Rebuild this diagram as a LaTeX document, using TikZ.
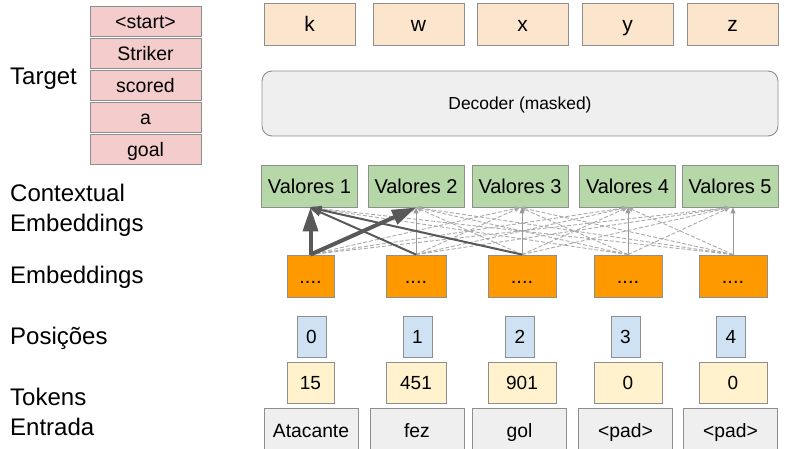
\documentclass[tikz,border=0pt]{standalone}
\usepackage{fontspec}
\setmainfont{Liberation Sans}
\usetikzlibrary{arrows.meta}

\definecolor{tgtpink}{HTML}{F4CCCC}
\definecolor{outpeach}{HTML}{FCE5CD}
\definecolor{boxgray}{HTML}{EFEFEF}
\definecolor{valgreen}{HTML}{B6D7A8}
\definecolor{emborange}{HTML}{FF9900}
\definecolor{posblue}{HTML}{CFE2F3}
\definecolor{idyellow}{HTML}{FFF2CC}
\definecolor{edgegray}{HTML}{8E8E8E}
\definecolor{attdark}{HTML}{595959}
\definecolor{attmid}{HTML}{999999}
\definecolor{attlight}{HTML}{A9A9A9}

\newcommand\fs[1]{\fontsize{#1}{30}\selectfont}

\begin{document}
\begin{tikzpicture}[x=1pt,y=-1pt,
    box/.style={draw=edgegray,line width=0.9pt,inner sep=0pt,minimum height=#1},
    sz/.style={font=\fs{#1},text height=0.72*#1pt,text depth=0pt},
    rowlabel/.style={anchor=west,align=left,inner sep=0pt,font=\fs{24}},
    att/.style={-{Triangle[length=0pt 6,width=1.7pt 3.3]}},
    attweak/.style={att,attlight,line width=0.9pt,dash pattern=on 4pt off 2pt},
    attself/.style={att,attmid,line width=1pt},
    attstrong/.style={att,attdark,line width=#1}]

  \clip (0,0) rectangle (809,449);

  % Row labels
  \node[rowlabel] (lbltarget) at (10,79) {Target};
  \node[rowlabel] (lblcontext) at (10,210) {Contextual\\Embeddings};
  \node[rowlabel] (lblemb) at (10,277) {Embeddings};
  \node[rowlabel] (lblpos) at (10,338) {Posições};
  \node[rowlabel] (lbltok) at (10,412) {Tokens\\Entrada};

  % Target sentence
  \foreach \n/\w in {1/<start>,2/Striker,3/scored,4/a,5/goal}
    \node[box=30,minimum width=111,fill=tgtpink,sz=19.5] (tgt\n) at (145.5,{21+32.2*(\n-1)}) {\w};

  % Decoder outputs and decoder
  \foreach \n/\x/\w in {1/309.5/k,2/418.5/w,3/522.5/x,4/627.5/y,5/732.5/z}
    \node[box=42,minimum width=91,fill=outpeach,sz=21] (out\n) at (\x,24) {\w};
  \node[box=65,minimum width=516,fill=boxgray,rounded corners=10pt,sz=17.4] (dec) at (520,103.5) {Decoder (masked)};

  % Contextual embeddings
  \foreach \n/\x in {1/309.5,2/416,3/520,4/627.5,5/730}
    \node[box=42,minimum width=96,fill=valgreen,sz=20] (val\n) at (\x,186) {Valores \n};

  % Embeddings, positions and token ids
  \foreach \n/\x/\w/\id in {1/310.5/47/15,2/416/60/451,3/522/68/901,4/628/68/0,5/733/68/0}{
    \node[box=42,minimum width=\w,fill=emborange,sz=20] (emb\n) at (\x,276) {....};
    \node[box=41,minimum width=\w,fill=idyellow,sz=19] (id\n) at (\x,382.5) {\id};
  }
  \foreach \n/\x in {1/311.5,2/417.5,3/520,4/625.5,5/731}
    \node[box=41,minimum width=29,fill=posblue,sz=19] (pos\n) at (\x,336.5) {\the\numexpr\n-1\relax};

  % Input tokens
  \foreach \n/\x/\w in {1/311/Atacante,2/417/fez,3/519.5/gol,4/625.5/<pad>,5/730.5/<pad>}
    \node[box=45,minimum width=94,fill=boxgray,sz=19.3] (tok\n) at (\x,430.5) {\w};

  % Attention
  \foreach \i in {1,...,5}
    \foreach \j in {1,...,5}
      {\ifnum\i=\j\else\draw[attweak] (emb\i.north) -- (val\j.south);\fi}
  \foreach \i in {2,...,5}
    \draw[attself] (emb\i.north) -- (emb\i.north |- val\i.south);
  \draw[attstrong=2pt] (emb2.north) -- (val1.south);
  \draw[attstrong=2pt] (emb3.north) -- (val1.south);
  \draw[attstrong=4pt] (emb1.north) -- (val2.south);
  \draw[attstrong=4pt] (emb1.north) -- (emb1.north |- val1.south);

\end{tikzpicture}
\end{document}
